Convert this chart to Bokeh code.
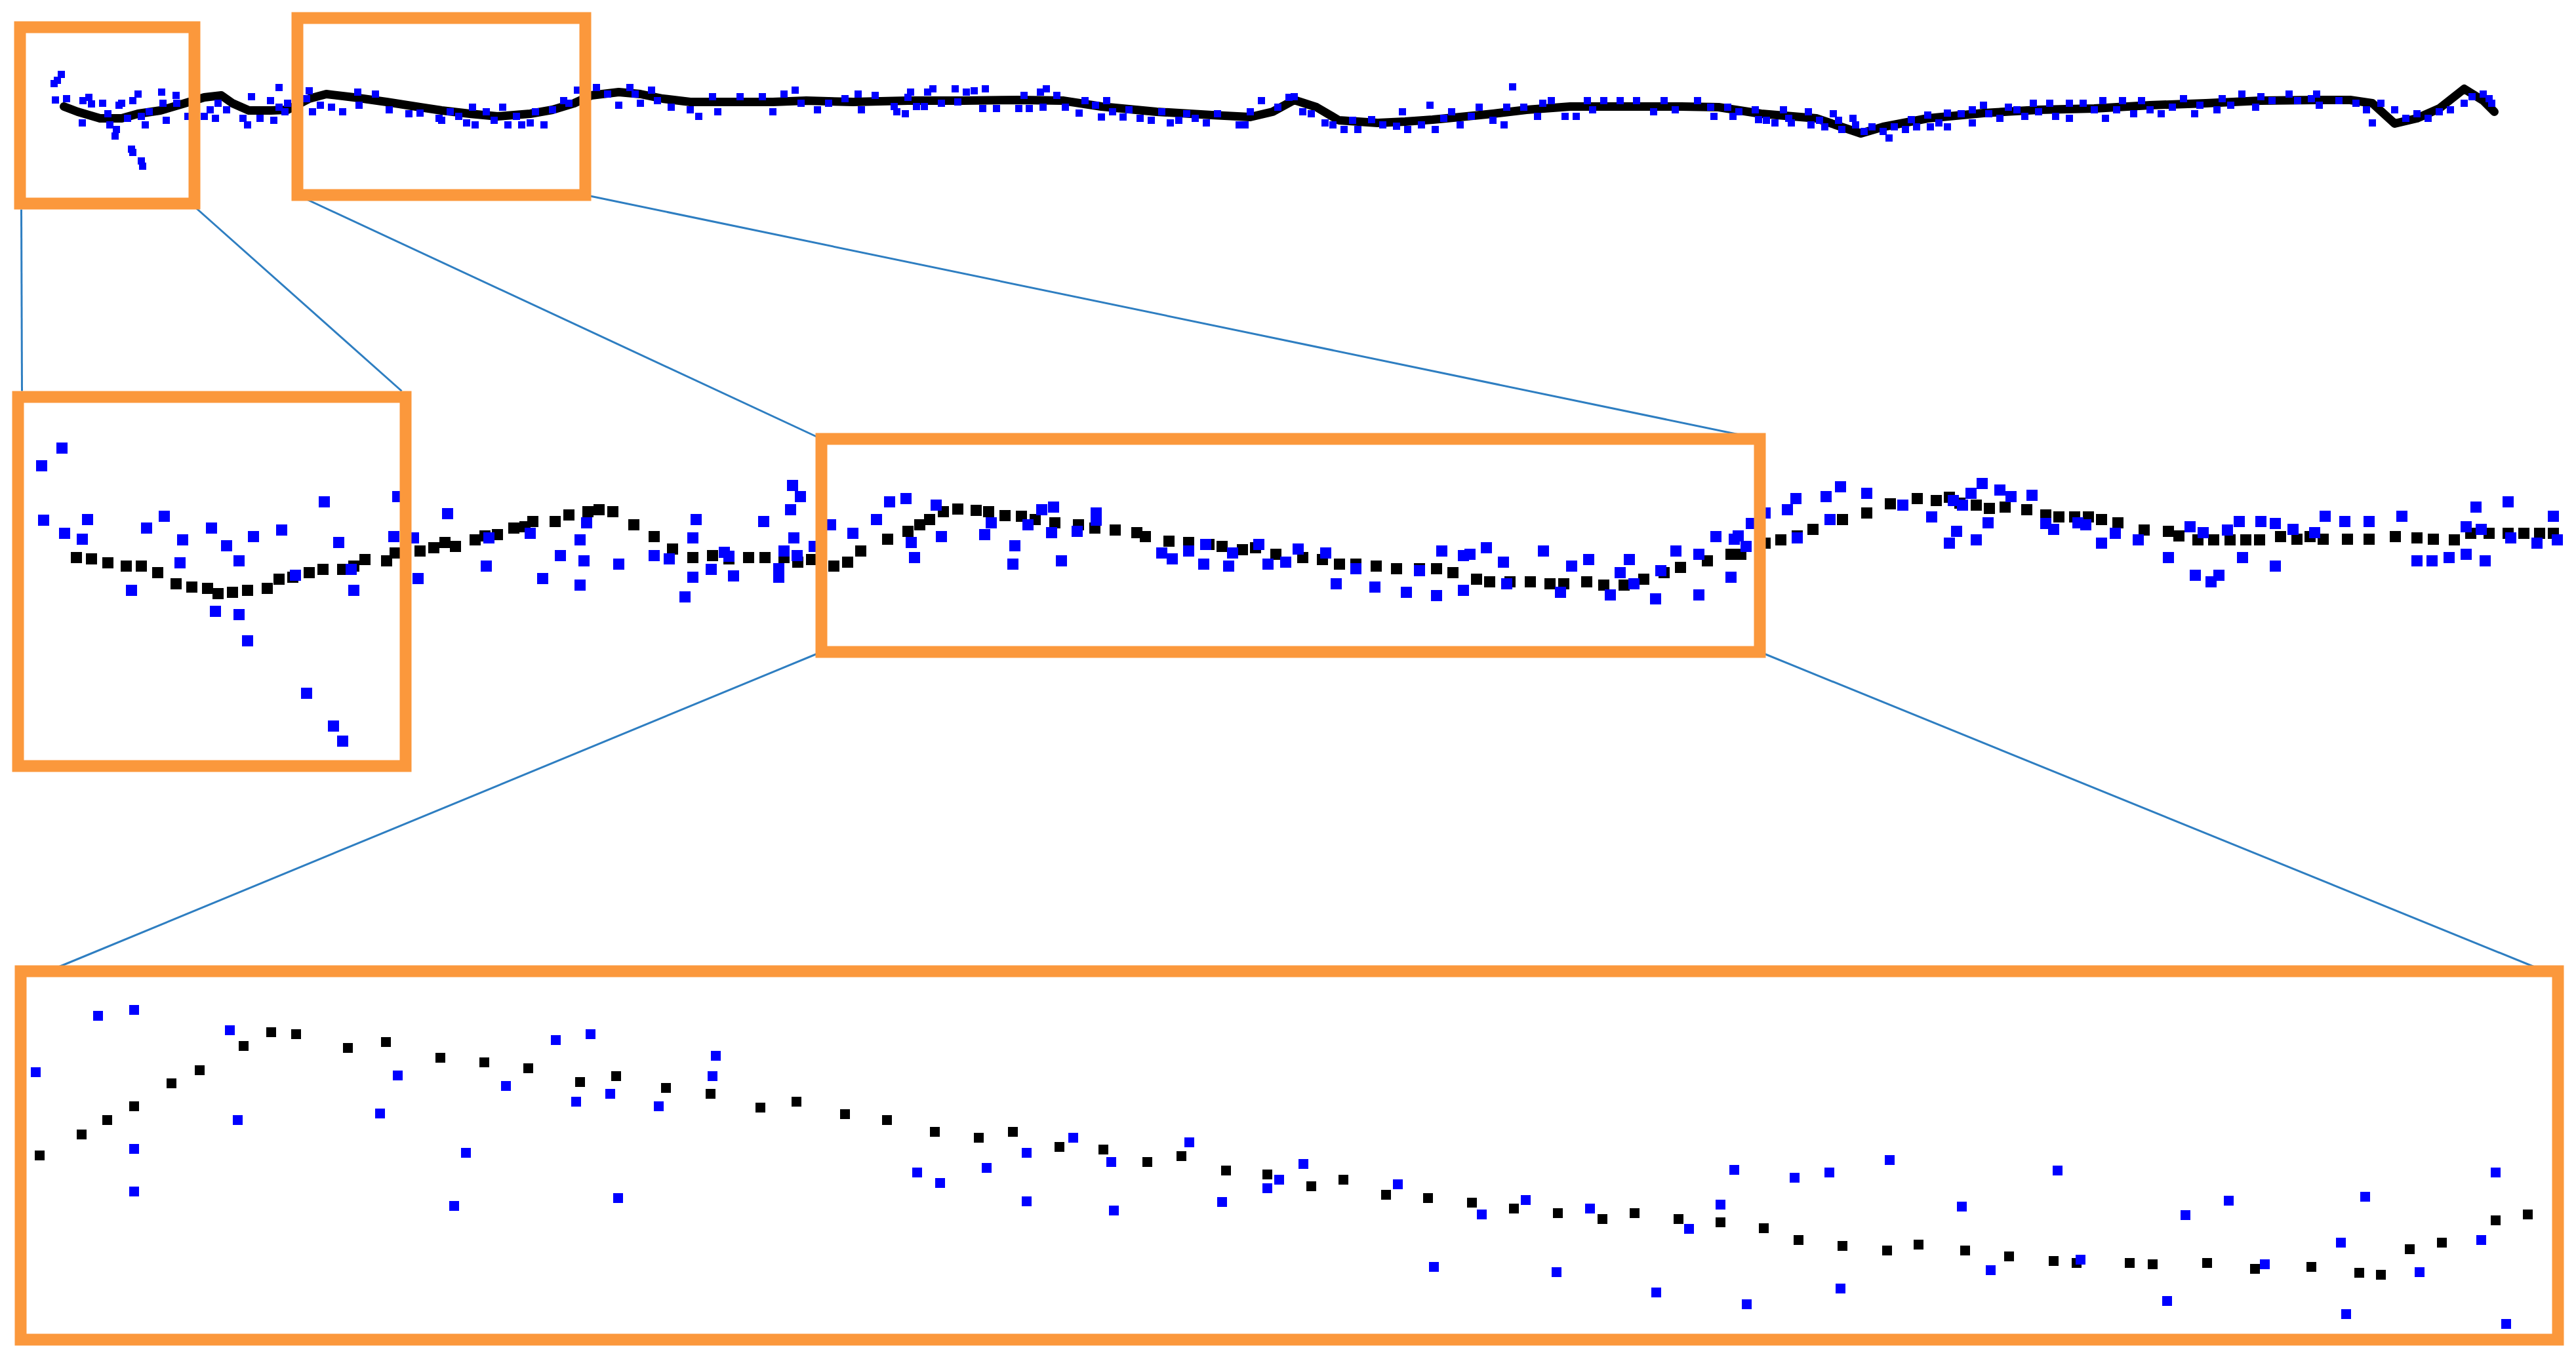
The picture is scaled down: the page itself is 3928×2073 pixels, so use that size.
from bokeh.plotting import figure
from bokeh.models import Range1d, ColumnDataSource
from bokeh.embed import file_html
from bokeh.resources import INLINE

# ---------------------------------------------------------------
# DATA  (readings; t = time position along
# the panel, v = signal level, both in the picture's reading units)
# ---------------------------------------------------------------

# --- overview (top) panel -------------------------------------
top_black = [(97,162),(118,170),(152,180),(185,180),(210,173),(244,168),(278,158),(311,148),(337,145),(354,157),
    (379,168),(412,168),(438,167),(471,150),(497,143),(539,148),(589,155),(640,163),(673,168),(716,173),
    (758,177),(808,173),(842,167),(875,157),(901,145),(943,140),(976,143),(1010,150),(1052,155),(1094,155),
    (1178,155),(1229,153),(1300,155),(1384,153),(1468,153),(1553,152),(1620,153),(1679,162),(1763,170),(1847,175),
    (1906,178),(1940,170),(1973,152),(2007,163),(2041,183),(2100,187),(2142,185),(2184,182),(2226,178),(2276,173),
    (2327,167),(2394,162),(2478,162),(2563,162),(2620,163),(2685,173),(2769,180),(2837,203),(2871,193),(2939,180),
    (3024,172),(3108,167),(3193,165),(3278,160),(3363,157),(3447,153),(3532,152),(3583,152),(3617,157),(3651,188),
    (3685,180),(3719,165),(3757,135),(3786,153),(3803,170)]

top_blue = [(82,127),(87,122),(93,113),
    (84,152),(101,150),(126,153),(135,148),(139,158),(125,187),(156,157),(164,173),(167,190),(177,197),(175,207),
    (200,227),(202,232),(215,245),(217,253),(181,160),(185,157),(194,180),(202,153),(210,143),(215,177),(221,190),
    (227,170),(246,140),(248,157),(253,183),(268,145),(269,157),(286,177),(311,177),(320,167),(328,180),(332,157),
    (345,167),(370,180),(377,190),(383,147),(396,180),(412,153),(417,183),(425,133),(425,163),(434,170),(438,157),
    (467,150),(471,138),(476,170),(488,160),(505,163),(522,170),(545,140),(547,160),(572,143),(593,167),(623,173),
    (640,172),(669,180),(673,183),(686,170),(699,177),(711,187),(720,163),(724,190),(741,170),(753,183),(766,163),
    (774,190),(787,177),(795,190),(808,187),(816,170),(829,190),(842,167),(859,153),(867,157),(880,137),(892,157),
    (909,133),(926,143),(943,160),(960,133),(968,143),(976,157),(993,137),(1002,153),(1023,163),(1052,167),(1065,177),
    (1086,147),(1094,170),(1128,147),(1162,147),(1178,170),(1195,143),(1212,137),(1221,157),(1246,167),(1263,157),
    (1288,150),
    (1308,143),(1313,167),(1334,145),(1363,162),(1367,170),(1380,173),(1384,148),(1388,140),(1397,162),(1409,162),
    (1414,140),(1422,135),(1435,157),(1456,135),(1460,155),(1473,140),(1485,138),(1498,165),(1502,135),(1519,165),
    (1553,165),(1561,145),(1569,165),(1586,140),(1595,135),(1590,163),(1611,145),(1624,163),(1645,172),(1654,153),
    (1670,160),(1679,178),(1687,153),(1696,170),(1712,178),(1721,167),(1738,180),(1755,183),(1771,170),(1784,187),
    (1797,183),(1809,173),(1822,180),(1839,187),(1856,173),(1889,190),(1898,190),(1906,170),(1923,153),(1948,163),
    (1965,148),(1973,147),(1986,170),(1999,173),(2020,187),(2032,190),(2049,197),(2062,183),(2070,197),(2091,182),
    (2108,190),(2129,192),(2138,170),(2146,197),(2167,190),(2180,160),(2188,197),(2201,180),(2213,170),(2226,190),
    (2243,177),(2255,163),(2276,183),(2293,190),(2297,163),(2306,132),(2323,163),(2344,177),(2352,157),(2365,153),
    (2386,177),(2403,177),(2420,153),(2428,167),(2445,153),(2470,153),(2495,153),(2521,170),(2537,153),(2554,167),
    (2588,153),
    (2608,163),(2613,177),(2634,163),(2642,177),(2651,170),(2676,167),(2681,182),(2693,183),(2706,187),(2719,167),
    (2727,180),(2731,187),(2757,170),(2761,190),(2774,183),(2782,193),(2795,173),(2803,183),(2808,197),(2825,180),
    (2829,190),(2842,200),(2854,193),(2871,200),(2880,210),(2888,193),(2905,197),(2914,182),(2922,193),(2939,175),
    (2943,193),(2956,187),(2969,193),(2969,172),(2990,173),(3007,187),(3007,167),(3024,160),(3032,173),(3049,180),
    (3062,163),(3075,167),(3087,177),(3100,157),(3108,170),(3125,157),(3134,177),(3155,157),(3155,180),(3176,157),
    (3193,167),(3206,153),(3210,180),(3227,167),(3236,153),(3253,173),(3265,153),(3278,167),(3295,173),(3312,163),
    (3329,150),(3346,173),(3354,160),(3380,167),(3388,150),(3401,160),(3418,143),(3439,163),(3447,147),(3464,153),
    (3490,143),(3503,153),(3524,150),(3532,143),(3536,160),(3566,153),(3592,157),(3608,167),(3617,187),(3630,157),
    (3651,167),(3668,180),(3685,173),(3702,180),(3719,170),(3736,167),(3757,157),(3769,147),(3786,143),(3795,150),
    (3799,157)]

# --- first zoom (middle) panel --------------------------------
mid_black = [(116,850),(139,852),(164,858),(192,863),(215,863),(240,873),(268,890),(292,895),(316,897),(332,905),
    (354,903),(377,900),(407,897),(425,883),(446,880),(471,873),(492,868),(522,868),(539,863),(556,853),
    (589,855),(602,843),(640,840),(661,835),(678,827),(694,833),(724,823),(739,817),(758,815),(783,805),
    (800,803),(812,795),(846,795),(867,785),(896,780),(913,777),(934,780),(966,800),(997,818),(1025,837),
    (1056,850),(1086,847),(1111,852),(1141,850),(1166,850),(1195,850),(1216,857),(1237,853),(1271,863),(1292,857),
    (1312,840),(1353,822),(1384,810),(1402,800),(1417,792),(1438,780),(1460,776),(1488,778),(1507,780),(1532,786),
    (1557,787),(1578,792),(1608,797),(1644,800),(1669,805),(1700,808),(1733,812),(1746,818),(1782,825),(1812,827),
    (1843,830),(1863,833),(1894,838),(1914,835),(1945,845),(1986,850),(2016,853),(2042,860),(2067,860),(2098,863),
    (2129,867),(2164,867),(2190,867),(2215,873),(2251,883),(2271,887),(2302,887),(2333,887),(2363,890),(2384,890),
    (2419,887),(2445,892),(2476,892),(2506,883),(2537,873),(2562,865),(2603,855),(2639,845),(2654,845),(2691,828),
    (2715,823),(2740,817),(2764,807),(2809,792),(2846,782),(2882,768),(2923,760),(2952,763),(2972,758),(2988,767),
    (3013,770),(3033,775),(3057,773),(3090,777),(3119,785),(3139,788),(3163,788),(3184,788),(3204,792),(3229,797),
    (3269,808),(3306,810),(3322,817),(3351,823),(3375,823),(3400,823),(3424,823),(3445,823),(3477,818),(3502,822),
    (3522,818),(3542,822),(3579,822),(3612,822),(3652,818),(3685,820),(3710,822),(3742,823),(3767,813),(3795,813),
    (3824,813),(3848,813),(3872,813),(3893,813)]

mid_blue = [(63,710),(66,793),(94,683),(98,813),(125,822),(133,792),(200,900),(223,805),(250,787),(274,858),
    (278,823),(322,805),(328,932),(345,832),(364,855),(364,937),(377,977),(386,818),(429,808),(450,877),
    (467,1057),(494,765),(508,1107),(516,827),(522,1130),(535,868),(539,900),(600,818),(606,757),(630,820),
    (637,882),(682,783),(741,863),(745,820),(808,813),(827,882),(854,847),(884,823),(884,892),(890,855),
    (894,797),(943,860),(997,847),(1020,852),(1044,910),(1056,880),(1056,820),(1061,792),(1084,868),(1104,842),
    (1111,848),(1118,878),(1164,795),(1187,880),(1187,867),(1195,840),
    (1205,777),(1208,740),(1210,820),(1215,847),(1220,757),(1241,833),(1266,800),(1300,813),(1336,792),(1356,765),
    (1381,760),(1389,827),(1394,850),(1427,770),(1435,818),(1501,815),(1511,797),(1547,832),(1544,860),(1567,800),
    (1588,777),(1606,773),(1603,812),(1618,855),(1642,810),(1671,782),(1671,793),(1771,843),(1787,852),(1812,840),
    (1835,860),(1838,830),(1873,863),(1879,843),(1919,830),(1933,860),(1960,857),(1979,837),(2021,843),(2037,890),
    (2067,867),(2096,895),(2144,903),(2164,870),(2190,908),(2198,840),(2231,847),(2241,845),(2231,900),(2266,835),
    (2292,857),(2297,890),(2353,840),(2379,903),(2396,863),(2422,853),(2455,907),(2470,873),(2484,853),(2491,890),
    (2524,913),(2532,870),(2555,840),(2590,907),(2590,845),(2616,818),(2639,880),(2644,822),
    (2650,817),(2662,833),(2670,798),(2691,782),(2725,777),(2738,760),(2740,820),(2784,757),(2790,792),(2806,742),
    (2846,752),(2901,770),(2945,788),(2972,828),(2978,763),(2983,810),(2992,770),(3005,752),(3013,823),(3022,737),
    (3031,797),(3049,747),(3066,757),(3098,755),(3119,798),(3131,807),(3168,797),(3180,800),(3204,828),(3225,813),
    (3260,823),(3306,850),(3339,803),(3347,877),(3359,812),(3371,887),(3383,877),(3396,808),(3414,795),(3419,850),
    (3447,795),(3469,798),(3469,863),(3496,807),(3529,812),(3545,787),(3575,795),(3612,795),(3662,787),(3685,855),
    (3708,855),(3734,850),(3760,803),(3760,845),(3775,773),(3783,807),(3789,855),(3824,765),(3828,820),(3868,828),
    (3893,787),(3899,823)]

# --- second zoom (bottom) panel -------------------------------
bot_black = [(60,1762),(124,1730),(163,1708),(204,1687),(261,1652),(304,1632),(371,1595),(413,1574),(451,1577),
    (530,1598),(588,1589),(671,1613),(738,1620),(805,1629),(884,1650),(939,1641),(1015,1659),(1083,1668),
    (1159,1689),(1214,1680),(1288,1699),(1352,1708),(1425,1726),(1492,1735),(1544,1726),(1615,1749),(1682,1753),
    (1749,1772),(1801,1763),(1869,1785),(1932,1791),(1999,1809),(2048,1799),(2113,1822),(2177,1827),(2244,1834),
    (2308,1843),(2375,1850),(2443,1859),(2492,1850),(2559,1859),(2623,1864),(2689,1873),(2742,1891),(2809,1900),
    (2877,1907),(2925,1898),(2996,1907),(3063,1916),(3131,1923),(3166,1926),(3247,1926),(3282,1928),(3365,1926),
    (3438,1935),(3524,1932),(3597,1941),(3630,1944),(3674,1905),(3723,1895),(3805,1861),(3854,1852)]

bot_blue = [(54,1635),(149,1549),(204,1540),(204,1752),(204,1817),(350,1571),(362,1708),(579,1698),(606,1640),
    (692,1839),(710,1758),(771,1656),(847,1586),(878,1680),(900,1577),(930,1668),(942,1827),(1004,1687),
    (1086,1641),(1091,1610),(1398,1788),(1433,1804),(1504,1781),(1565,1758),(1565,1832),(1636,1735),(1694,1772),
    (1698,1846),(1813,1742),(1863,1833),(1932,1812),(1950,1799),(1987,1775),(2131,1806),(2186,1932),(2259,1852),
    (2326,1830),(2373,1940),(2424,1843),(2525,1971),(2575,1874),(2623,1837),(2644,1784),(2663,1989),(2736,1796),
    (2789,1788),(2806,1965),(2881,1769),(2991,1840),(3035,1937),(3137,1785),(3172,1921),(3304,1984),(3332,1853),
    (3398,1831),(3453,1928),(3569,1895),(3577,2004),(3606,1825),(3689,1940),(3783,1891),(3805,1788),(3821,2019)]

# ---------------------------------------------------------------
# LAYOUT (zoom windows and connector leader lines)
# ---------------------------------------------------------------
ZOOM_BOXES = {  # left, right, top, bottom (border centre line)
    "A": (30, 296, 41, 310),
    "B": (453, 892, 27, 297),
    "C": (27, 618, 605, 1168),
    "D": (1252, 2683, 669, 994),
    "E": (31, 3900, 1481, 2043),
}
CONNECTORS = [((32, 319), (33, 596)), ((293, 312), (612, 596)),
              ((453, 297), (1252, 669)), ((892, 297), (2683, 669)),
              ((1252, 994), (85, 1476)), ((2683, 994), (3868, 1476))]

BLUE = "#0000FF"
BLACK = "#000000"
ORANGE = "#FB983C"
LEADER = "#2E7EC1"

W, H = 3912, 2057
p = figure(width=W, height=H, output_backend="svg", toolbar_location=None,
           x_axis_location=None, y_axis_location=None,
           x_range=Range1d(0, W), y_range=Range1d(H, 0),
           min_border=0, outline_line_color=None, background_fill_color="white",
           border_fill_color="white")
p.grid.visible = False


def split(pairs):
    return [a for a, _ in pairs], [b for _, b in pairs]

# leader lines (underneath)
p.segment(x0=[c[0][0] for c in CONNECTORS], y0=[c[0][1] for c in CONNECTORS],
          x1=[c[1][0] for c in CONNECTORS], y1=[c[1][1] for c in CONNECTORS],
          line_color=LEADER, line_width=3)

# top panel
t, v = split(top_black)
p.line(t, v, line_color=BLACK, line_width=13, line_join="round", line_cap="round")
t, v = split(top_blue)
p.scatter(t, v, marker="square", size=11, fill_color=BLUE, line_color=None)

# middle panel
t, v = split(mid_black)
p.scatter(t, v, marker="square", size=17, fill_color=BLACK, line_color=None)
t, v = split(mid_blue)
p.scatter(t, v, marker="square", size=17, fill_color=BLUE, line_color=None)

# bottom panel
t, v = split(bot_black)
p.scatter(t, v, marker="square", size=15, fill_color=BLACK, line_color=None)
t, v = split(bot_blue)
p.scatter(t, v, marker="square", size=15, fill_color=BLUE, line_color=None)

# zoom windows on top
boxes = ColumnDataSource(dict(
    left=[b[0] for b in ZOOM_BOXES.values()], right=[b[1] for b in ZOOM_BOXES.values()],
    top=[b[2] for b in ZOOM_BOXES.values()], bottom=[b[3] for b in ZOOM_BOXES.values()]))
p.quad(left="left", right="right", top="top", bottom="bottom", source=boxes,
       fill_color=None, line_color=ORANGE, line_width=18, line_join="miter")

open("out.html", "w").write(file_html(p, INLINE))
